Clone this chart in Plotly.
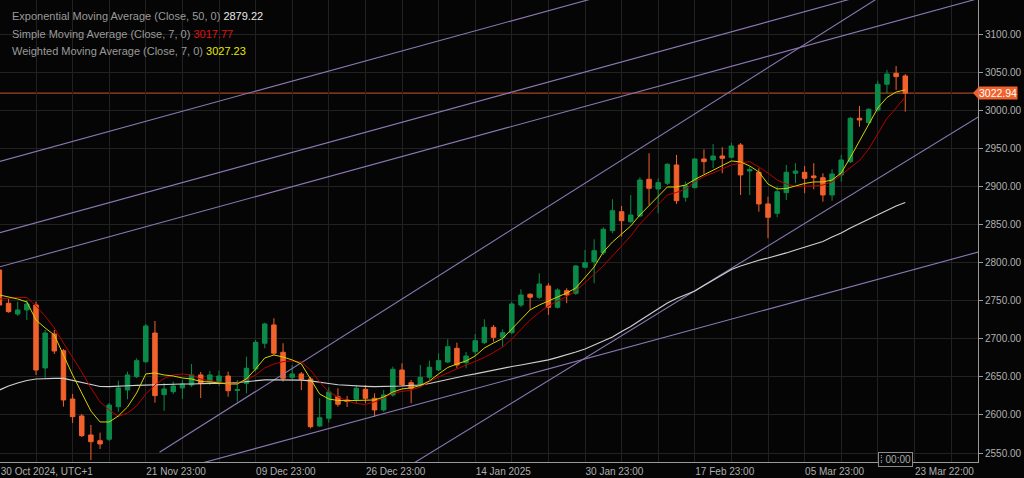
import plotly.graph_objects as go

# ---------------- data ----------------
opens = [2790.5, 2746.8, 2732.7, 2738.0, 2744.5, 2661.8, 2706.4, 2684.5, 2621.0, 2598.7,
         2573.7, 2566.2, 2568.1, 2610.9, 2632.8, 2650.3, 2670.0, 2707.7, 2626.7, 2630.6,
         2635.5, 2639.4, 2652.6, 2643.8, 2643.8, 2651.2, 2632.2, 2641.6, 2660.4, 2694.2,
         2718.3, 2682.4, 2649.5, 2653.9, 2647.3, 2585.5, 2595.7, 2624.0, 2619.7, 2620.6,
         2633.8, 2621.9, 2606.6, 2626.3, 2659.1, 2642.4, 2639.4, 2649.5, 2659.1, 2669.6,
         2687.6, 2668.7, 2683.2, 2695.0, 2715.2, 2702.1, 2708.1, 2744.5, 2758.6, 2754.7,
         2769.5, 2741.5, 2763.3, 2759.9, 2794.1, 2801.4, 2813.3, 2842.2, 2867.1, 2854.0,
         2861.5, 2909.7, 2897.0, 2904.5, 2928.5, 2886.1, 2898.7, 2936.4, 2935.1, 2940.3,
         2938.6, 2954.8, 2920.6, 2918.9, 2877.3, 2865.0, 2892.1, 2917.6, 2918.9, 2914.1,
         2911.8, 2889.1, 2915.4, 2932.9, 2989.9, 2984.1, 3000.8, 3034.6, 3049.0, 3045.5]

highs = [2795.8, 2752.4, 2748.9, 2751.1, 2748.9, 2711.7, 2711.7, 2686.7, 2627.6, 2601.3,
         2586.9, 2576.7, 2615.8, 2645.1, 2656.9, 2674.5, 2719.6, 2723.5, 2642.4, 2643.8,
         2646.0, 2667.0, 2656.5, 2657.8, 2658.2, 2656.9, 2646.0, 2676.6, 2698.6, 2721.3,
         2727.1, 2694.2, 2665.7, 2656.5, 2649.9, 2621.9, 2636.4, 2635.1, 2625.0, 2639.4,
         2639.4, 2628.5, 2632.8, 2663.5, 2667.9, 2646.0, 2665.7, 2671.4, 2681.1, 2699.5,
         2695.0, 2682.8, 2706.4, 2725.7, 2718.3, 2712.6, 2748.9, 2765.2, 2759.9, 2786.2,
         2773.1, 2766.5, 2766.5, 2797.1, 2816.8, 2830.9, 2846.6, 2883.4, 2874.6, 2889.1,
         2912.4, 2943.9, 2911.0, 2930.8, 2941.7, 2906.6, 2937.3, 2949.1, 2956.1, 2951.8,
         2957.8, 2957.4, 2926.3, 2924.2, 2886.9, 2900.0, 2928.5, 2930.8, 2927.2, 2930.8,
         2917.6, 2922.9, 2941.7, 2991.6, 3006.0, 3003.0, 3039.3, 3053.4, 3058.6, 3048.1]

lows = [2740.6, 2734.4, 2730.1, 2724.8, 2652.6, 2648.6, 2680.2, 2610.9, 2589.5, 2571.1,
        2540.9, 2555.3, 2565.8, 2604.3, 2620.6, 2648.6, 2668.3, 2616.2, 2605.6, 2627.6,
        2621.0, 2636.8, 2622.3, 2639.4, 2638.1, 2624.0, 2617.5, 2628.5, 2656.9, 2687.6,
        2678.8, 2643.8, 2646.0, 2632.8, 2582.5, 2584.6, 2589.9, 2610.9, 2610.5, 2615.8,
        2615.4, 2597.4, 2604.3, 2624.0, 2638.1, 2615.4, 2636.4, 2646.0, 2657.8, 2668.3,
        2661.4, 2661.4, 2677.5, 2693.3, 2696.3, 2689.7, 2706.4, 2741.9, 2738.0, 2752.4,
        2731.4, 2739.9, 2746.8, 2757.7, 2792.8, 2773.1, 2810.2, 2838.8, 2834.3, 2851.9,
        2859.8, 2876.0, 2865.0, 2902.2, 2877.3, 2880.3, 2897.9, 2916.7, 2924.2, 2917.6,
        2937.1, 2889.1, 2889.1, 2867.1, 2832.2, 2859.8, 2882.5, 2904.5, 2891.3, 2896.6,
        2880.3, 2881.6, 2906.6, 2931.1, 2978.8, 2982.4, 2998.6, 3022.7, 3027.1, 2998.6]

closes = [2744.5, 2735.7, 2738.0, 2745.9, 2659.1, 2707.7, 2684.1, 2619.7, 2597.8, 2572.8,
          2564.9, 2561.9, 2613.1, 2635.5, 2652.6, 2671.4, 2716.9, 2625.4, 2634.2, 2638.1,
          2640.7, 2652.6, 2641.4, 2652.6, 2651.2, 2631.9, 2633.5, 2661.4, 2695.5, 2719.6,
          2681.1, 2648.2, 2653.9, 2646.9, 2584.6, 2596.4, 2630.2, 2614.1, 2617.7, 2635.1,
          2621.9, 2606.6, 2626.3, 2660.0, 2639.4, 2635.1, 2649.5, 2662.7, 2671.4, 2689.7,
          2665.7, 2677.5, 2697.6, 2715.2, 2702.1, 2708.1, 2745.9, 2757.7, 2754.7, 2772.1,
          2741.5, 2764.3, 2757.7, 2795.8, 2800.1, 2815.9, 2844.0, 2868.5, 2855.3, 2862.8,
          2908.8, 2897.9, 2905.3, 2929.4, 2881.6, 2901.3, 2936.4, 2932.9, 2940.3, 2937.3,
          2953.5, 2915.4, 2922.6, 2877.3, 2859.8, 2893.4, 2918.9, 2920.6, 2911.0, 2911.8,
          2889.1, 2916.7, 2935.1, 2989.9, 2987.6, 3001.7, 3034.6, 3048.1, 3044.6, 3022.94]

ema50 = [2632.8, 2638.1, 2642.0, 2645.3, 2647.3, 2648.0, 2648.2, 2648.0, 2645.3, 2642.0,
         2639.4, 2637.4, 2637.2, 2637.4, 2638.4, 2639.0, 2639.4, 2640.1, 2640.7, 2640.7,
         2640.7, 2640.7, 2641.4, 2641.6, 2641.6, 2641.6, 2642.7, 2644.0, 2645.3, 2646.0,
         2646.0, 2646.0, 2646.0, 2645.7, 2644.7, 2643.4, 2641.4, 2639.7, 2638.8, 2638.1,
         2637.7, 2637.3, 2637.4, 2637.8, 2638.1, 2638.8, 2639.4, 2641.4, 2644.0, 2647.3,
         2649.3, 2651.9, 2653.9, 2656.5, 2658.7, 2661.1, 2663.7, 2665.7, 2667.7, 2669.6,
         2672.3, 2675.6, 2678.8, 2682.8, 2686.7, 2692.0, 2696.6, 2702.5, 2709.7, 2716.3,
         2724.2, 2732.1, 2739.9, 2747.2, 2753.1, 2757.7, 2762.9, 2770.2, 2777.4, 2784.6,
         2791.2, 2795.8, 2799.7, 2803.3, 2806.3, 2809.3, 2812.9, 2816.8, 2820.8, 2824.0,
         2828.0, 2833.9, 2839.2, 2845.7, 2851.6, 2857.6, 2863.5, 2869.4, 2874.6, 2879.22]

sma7 = [2752.4, 2753.7, 2754.4, 2754.4, 2743.2, 2730.1, 2714.3, 2694.6, 2676.2, 2656.5,
        2635.5, 2617.1, 2606.6, 2598.0, 2602.6, 2611.8, 2627.6, 2639.4, 2648.0, 2652.6,
        2653.9, 2652.6, 2647.3, 2644.7, 2642.7, 2640.7, 2642.0, 2646.0, 2652.6, 2661.8,
        2667.0, 2670.0, 2671.0, 2669.6, 2659.1, 2643.4, 2630.2, 2623.6, 2618.4, 2615.1,
        2613.8, 2617.1, 2622.3, 2628.9, 2630.9, 2632.8, 2636.8, 2644.0, 2649.9, 2655.2,
        2661.1, 2665.7, 2670.3, 2675.6, 2682.1, 2689.3, 2699.9, 2711.7, 2724.8, 2734.7,
        2743.2, 2749.8, 2755.5, 2762.9, 2773.5, 2784.0, 2795.8, 2808.9, 2822.1, 2835.2,
        2851.0, 2864.1, 2877.3, 2889.1, 2892.4, 2897.0, 2906.2, 2913.4, 2918.0, 2923.3,
        2928.5, 2931.1, 2932.9, 2925.9, 2918.0, 2908.8, 2903.5, 2900.3, 2900.3, 2900.9,
        2902.2, 2906.2, 2915.4, 2925.2, 2934.4, 2949.5, 2969.3, 2989.6, 3003.4, 3017.77]

wma7 = [2757.7, 2755.1, 2752.4, 2748.5, 2724.8, 2714.3, 2705.1, 2678.8, 2652.6, 2628.9,
        2605.2, 2590.8, 2590.8, 2598.7, 2610.5, 2628.9, 2653.9, 2655.2, 2652.6, 2651.2,
        2648.6, 2647.3, 2644.0, 2643.4, 2642.4, 2640.7, 2640.7, 2647.3, 2660.4, 2674.9,
        2678.8, 2676.2, 2672.3, 2667.0, 2647.3, 2627.6, 2621.0, 2619.0, 2618.8, 2619.0,
        2619.7, 2619.7, 2623.6, 2630.2, 2634.2, 2635.5, 2638.8, 2644.7, 2653.9, 2662.4,
        2667.0, 2671.0, 2677.5, 2688.0, 2694.6, 2700.5, 2713.0, 2726.1, 2738.0, 2744.5,
        2749.8, 2754.4, 2760.3, 2766.9, 2781.3, 2794.5, 2814.2, 2827.3, 2837.8, 2848.4,
        2862.8, 2874.6, 2886.5, 2899.6, 2899.6, 2902.2, 2909.5, 2915.4, 2921.9, 2927.2,
        2933.8, 2932.5, 2927.2, 2919.3, 2903.5, 2897.0, 2897.6, 2900.9, 2904.2, 2906.2,
        2906.2, 2908.8, 2918.0, 2938.4, 2960.1, 2982.4, 3003.4, 3017.2, 3024.4, 3027.23]

# trend lines drawn on the chart: (bar index, price) of both ends
trend_x0 = [0, 0, 0, 17.5, 22, 44]
trend_y0 = [2933.1, 2839.3, 2794.6, 2551.0, 2536.4, 2527.3]
trend_x1 = [70, 100, 107, 97, 107, 107]
trend_y1 = [3164.2, 3169.6, 3147.2, 3155.3, 2814.2, 2991.7]

# x-axis labels (bar index where each label sits)
x_label_pos = [0.1, 16, 28, 40, 52, 64, 76, 88, 100]
x_labels = ["30 Oct 2024, UTC+1", "21 Nov 23:00", "09 Dec 23:00", "26 Dec 23:00",
            "14 Jan 2025", "30 Jan 23:00", "17 Feb 23:00", "05 Mar 23:00", "23 Mar 22:00"]

legend_names = ["Exponential Moving Average (Close, 50, 0)",
                "Simple Moving Average (Close, 7, 0)",
                "Weighted Moving Average (Close, 7, 0)"]

# ---------------- styling ----------------
BG = "#050505"
GRID = "#212121"
AXIS = "#9a9a9a"
TXT = "#b0b0b0"
GREEN = "#0b8a4a"
ORANGE = "#f2612c"
PURPLE = "#8b78b3"
EMA_C = "#cfcfcf"
SMA_C = "#b80000"
WMA_C = "#d4d400"
FONT = "Liberation Sans, Arial, sans-serif"

idx = list(range(len(closes)))

fig = go.Figure()

for a, b, c, d in zip(trend_x0, trend_y0, trend_x1, trend_y1):
    fig.add_trace(go.Scatter(x=[a, c], y=[b, d], mode="lines",
                             line=dict(color=PURPLE, width=1.1),
                             showlegend=False, hoverinfo="skip"))

fig.add_trace(go.Candlestick(
    x=idx, open=opens, high=highs, low=lows, close=closes,
    increasing=dict(line=dict(color=GREEN, width=1), fillcolor=GREEN),
    decreasing=dict(line=dict(color=ORANGE, width=1), fillcolor=ORANGE),
    whiskerwidth=0, showlegend=False, hoverinfo="skip"))

fig.add_trace(go.Scatter(x=idx, y=ema50, mode="lines", line=dict(color=EMA_C, width=1.2),
                         showlegend=False, hoverinfo="skip"))
fig.add_trace(go.Scatter(x=idx, y=sma7, mode="lines", line=dict(color=SMA_C, width=1),
                         showlegend=False, hoverinfo="skip"))
fig.add_trace(go.Scatter(x=idx, y=wma7, mode="lines", line=dict(color=WMA_C, width=1),
                         showlegend=False, hoverinfo="skip"))

# tick positions: a grid line every 4 bars, labels at the given positions
grid_pos = list(range(4, 107, 4))
label_map = dict(zip(x_label_pos, x_labels))
tickvals = sorted(set(grid_pos) | set(x_label_pos))
ticktext = [label_map.get(v, "") for v in tickvals]

last = closes[-1]

fig.update_layout(
    width=1024, height=478,
    margin=dict(l=0, r=46, t=0, b=16),
    paper_bgcolor=BG, plot_bgcolor=BG,
    boxgap=0.3,
    font=dict(family=FONT, size=10, color=TXT),
    xaxis=dict(range=[0.0656, 106.95], tickmode="array", tickvals=tickvals, ticktext=ticktext,
               ticklabelposition="outside right", ticks="",
               showgrid=True, gridcolor=GRID, gridwidth=1, zeroline=False,
               showline=True, linecolor=AXIS, linewidth=1,
               rangeslider=dict(visible=False), fixedrange=True,
               tickfont=dict(family=FONT, size=10, color=TXT)),
    yaxis=dict(side="right", range=[2538.2, 3145.3], tick0=2550, dtick=50, tickformat=".2f",
               showgrid=True, gridcolor=GRID, gridwidth=1, zeroline=False,
               showline=True, linecolor=AXIS, linewidth=1,
               ticks="outside", ticklen=4, tickcolor=AXIS, fixedrange=True,
               tickfont=dict(family=FONT, size=10, color=TXT)),
    showlegend=False,
)

# current price line and its tag
fig.add_shape(type="line", xref="paper", x0=0, x1=1, yref="y", y0=last, y1=last,
              line=dict(color="#c9552b", width=1), layer="below")
fig.add_shape(type="path", xref="paper", yref="y",
              path=f"M 0.9949,{last} L 1.0,{last + 7.2} L 1.0,{last - 7.2} Z",
              fillcolor=ORANGE, line=dict(width=0))
fig.add_annotation(xref="paper", x=1.0, yref="y", y=last, xanchor="left", yanchor="middle",
                   text=f"{last:.2f}", showarrow=False, bgcolor=ORANGE, borderpad=0,
                   font=dict(family=FONT, size=10.5, color="#ffffff"))

# indicator legend (top-left)
values = [ema50[-1], sma7[-1], wma7[-1]]
value_colors = ["#e8e8e8", "#e01010", "#e8e800"]
for k, (name, v, col) in enumerate(zip(legend_names, values, value_colors)):
    fig.add_annotation(xref="paper", yref="paper", x=0, y=1, xanchor="left", yanchor="middle",
                       xshift=10, yshift=-(16 + 17.5 * k), showarrow=False, align="left",
                       text=f"{name} <span style='color:{col}'>{v:.2f}</span>",
                       font=dict(family=FONT, size=11, color="#9a9a9a"))

# countdown box on the time axis
fig.add_annotation(xref="x", x=97.95, yref="paper", y=0, yanchor="middle", yshift=3,
                   text="⁞ 00:00", showarrow=False, bgcolor=BG, bordercolor="#8a8a8a",
                   borderwidth=1, borderpad=1, font=dict(family=FONT, size=10, color="#a8a8a8"))

fig.write_html("out.html", config={"displayModeBar": False},
               post_script="document.body.style.margin='0';")
